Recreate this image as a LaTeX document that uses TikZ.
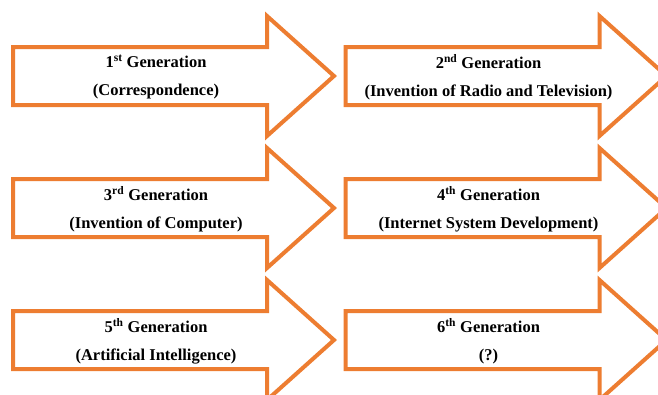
\documentclass[tikz,border=0pt]{standalone}
\usepackage{fontspec}
\setmainfont{Liberation Serif}
\usetikzlibrary{positioning}
\definecolor{genorange}{HTML}{ED7D31}

\begin{document}
\begin{tikzpicture}[x=1pt,y=-1pt,
  genarrow/.style={draw=genorange,line width=4pt,fill=white,miter limit=10},
  gentext/.style={align=center,inner sep=0pt,font=\fontsize{16.5}{28}\selectfont\bfseries}]
\useasboundingbox (0,0) rectangle (658,394);
\clip (0,0) rectangle (658,394);
% six generation arrows, two per row
\foreach \nm/\x/\y/\num/\suf/\desc in {
  a/13/76/1/st/Correspondence,
  b/345.5/76/2/nd/Invention of Radio and Television,
  c/13/208/3/rd/Invention of Computer,
  d/345.5/208/4/th/Internet System Development,
  e/13/340/5/th/Artificial Intelligence,
  f/345.5/340/6/th/?}{
  \draw[genarrow] (\x,\y-29) -- ++(254,0) -- ++(0,-31) -- ++(67,60) -- ++(-67,60) -- ++(0,-31) -- (\x,\y+29) -- cycle;
  \node[gentext] (\nm) at (\x+143,\y+1) {\num\textsuperscript{\suf} Generation\\(\desc)};
}
\end{tikzpicture}
\end{document}
